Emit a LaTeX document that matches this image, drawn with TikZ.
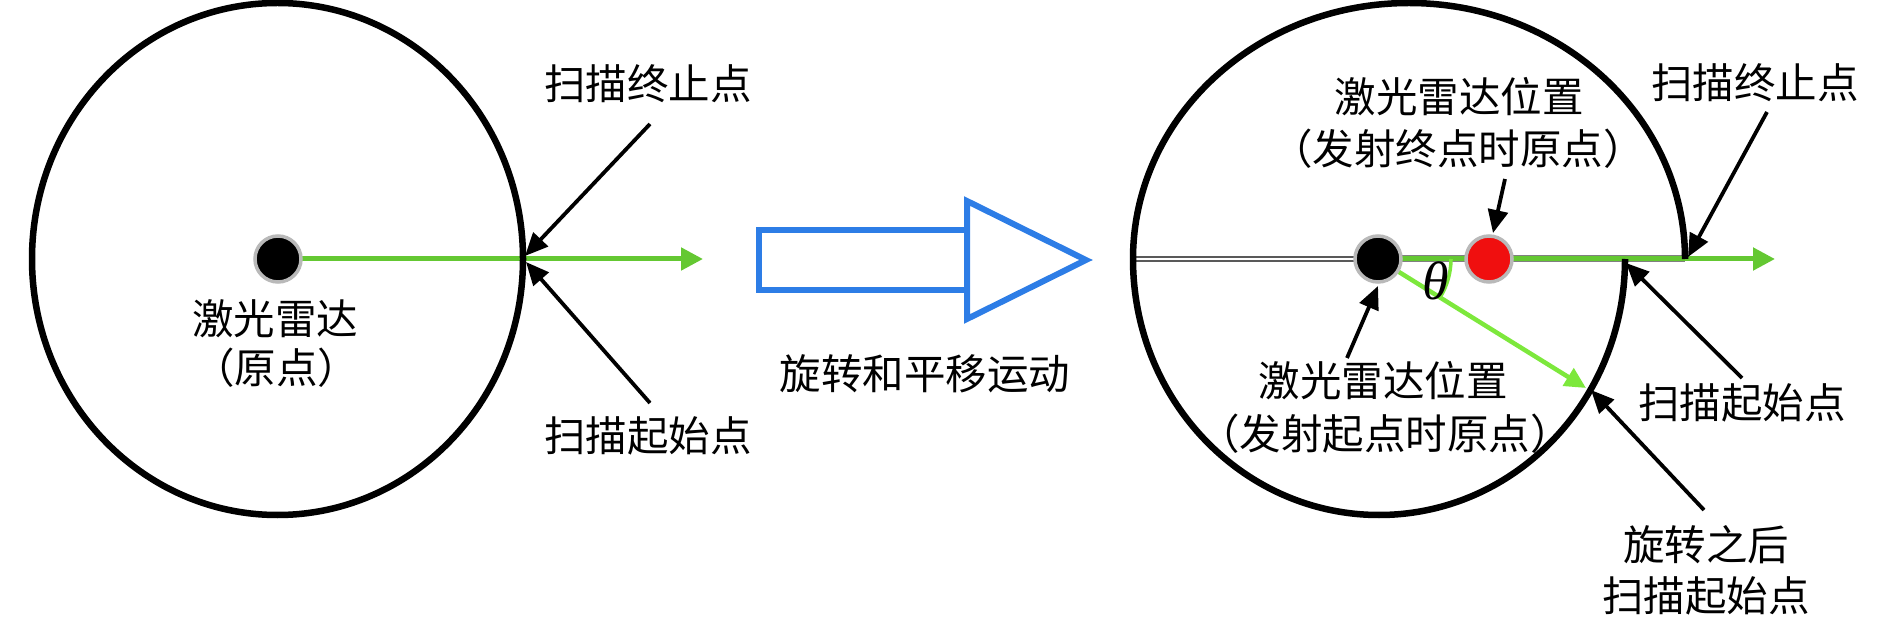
\documentclass[tikz,border=0pt]{standalone}
\usepackage{fontspec}
\newfontfamily\cjk{Noto Sans CJK SC}
\newfontfamily\serifgr{Liberation Serif}
\usetikzlibrary{arrows.meta,shapes.geometric,backgrounds,calc}
\definecolor{scangreen}{RGB}{100,200,50}
\definecolor{rotgreen}{RGB}{125,232,60}
\definecolor{moveblue}{RGB}{45,125,230}
\definecolor{dotgray}{RGB}{185,185,185}
\definecolor{reddot}{RGB}{240,15,15}
\begin{document}
\begin{tikzpicture}[x=1pt,y=-1pt,
  lbl/.style={font=\cjk\fontsize{41.5}{50}\selectfont, inner sep=0pt, anchor=base},
  lidar/.style={circle, draw=dotgray, line width=3.5pt, fill=black, minimum size=46pt, inner sep=0pt},
  ptr/.style={line width=3.8pt, -{Triangle[length=23pt,width=20pt]}},
  scan/.style={scangreen, line width=5pt, -{Triangle[length=22pt,width=22pt]}},
  rotscan/.style={rotgreen, line width=4.5pt, -{Triangle[length=21pt,width=20pt]}},
  ring/.style={line width=6.5pt},
  bigarrow/.style={moveblue, line width=6pt, line join=miter}]
\useasboundingbox (0,0) rectangle (1890,617);

% ---------- left diagram ----------
\draw[ring] (277.5,259) ellipse [x radius=245.5pt, y radius=256pt];
\node[lidar] (ldot) at (278,259) {};
\node[lbl] (l1) at (275,335) {激光雷达};
\node[lbl] (l2) at (276,384) {（原点）};
\node[lbl] (lend) at (648,100) {扫描终止点};
\node[lbl] (lstart) at (648,451) {扫描起始点};
\coordinate (ltip) at (703,259);
\coordinate (lendA) at (650,124);
\coordinate (lendB) at (525,256);
\coordinate (lstartA) at (650,403);
\coordinate (lstartB) at (526,262);
\draw[ptr] (lendA) -- (lendB);
\draw[ptr] (lstartA) -- (lstartB);

% ---------- middle block arrow ----------
\draw[bigarrow] (759,230) rectangle (967,290);
\draw[bigarrow] (967,201) -- (1086,260) -- (967,319) -- cycle;
\node[lbl] (move) at (925,389) {旋转和平移运动};

% ---------- right diagram ----------
\coordinate (rleft) at (1133,259);
\coordinate (rupend) at (1685,259);
\coordinate (rtip) at (1775,259);
\coordinate (rottip) at (1586,388);
\draw[ring] (rleft) arc[start angle=180, end angle=0, x radius=276pt, y radius=256pt];
\draw[ring] (rleft) arc[start angle=180, end angle=360, x radius=246pt, y radius=256pt];
\node[lidar] (rdot) at (1378,259) {};
\node[lidar, fill=reddot] (rred) at (1489,259) {};
\draw[rotgreen, line width=3.5pt] ($(rdot.center)+(73,0)$) arc[start angle=0, end angle=-32, radius=73pt];
\node[font=\serifgr\itshape\fontsize{54}{60}\selectfont, inner sep=0pt] (theta) at (1436,281) {θ};

\node[lbl] (rt1) at (1459,113) {激光雷达位置};
\node[lbl] (rt2) at (1458,165) {（发射终点时原点）};
\node[lbl] (rb1) at (1383,396) {激光雷达位置};
\node[lbl] (rb2) at (1385,449) {（发射起点时原点）};
\node[lbl] (rend) at (1755,99) {扫描终止点};
\node[lbl] (rstart) at (1742,418) {扫描起始点};
\node[lbl] (rrot1) at (1706,560) {旋转之后};
\node[lbl] (rrot2) at (1706,611) {扫描起始点};

\coordinate (redA) at (1505,179);
\coordinate (redB) at (1493,233);
\coordinate (blkA) at (1347,358);
\coordinate (blkB) at (1378,286);
\coordinate (rendA) at (1767,112);
\coordinate (rendB) at (1688,257);
\coordinate (rstartA) at (1742,378);
\coordinate (rstartB) at (1626,263);
\coordinate (rrotA) at (1704,510);
\coordinate (rrotB) at (1591,390);
\draw[ptr] (redA) -- (redB);
\draw[ptr] (blkA) -- (blkB);
\draw[ptr] (rendA) -- (rendB);
\draw[ptr] (rstartA) -- (rstartB);
\draw[ptr] (rrotA) -- (rrotB);

\begin{pgfonlayer}{background}
  \draw[scan] (ldot.center) -- (ltip);
  \draw[line width=6.5pt, black!65] (rleft) -- (rdot.center);
  \draw[line width=2.8pt, white] (rleft) -- (rdot.center);
  \draw[line width=7pt, black!50] (rdot.center) -- (rupend);
  \draw[scan] (rdot.center) -- (rtip);
  \draw[rotscan] (rdot.center) -- (rottip);
\end{pgfonlayer}
\end{tikzpicture}
\end{document}
